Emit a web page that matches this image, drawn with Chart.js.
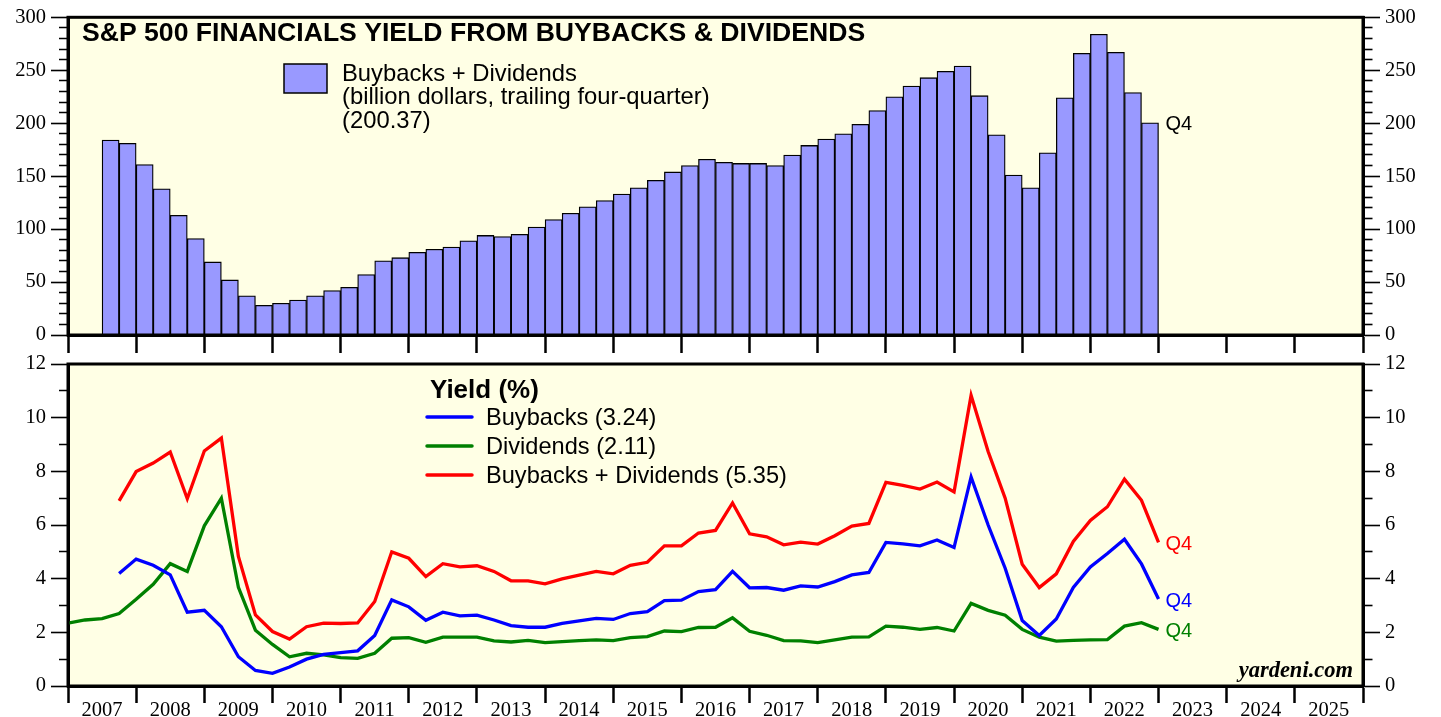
<!DOCTYPE html>
<html><head><meta charset="utf-8">
<script src="https://cdn.jsdelivr.net/npm/chart.js@4/dist/chart.umd.min.js"></script>
<style>
html,body{margin:0;padding:0;background:#fff;width:1441px;height:717px;overflow:hidden}
#top{position:absolute;left:0;top:0}
#bot{position:absolute;left:0;top:340px}
</style></head><body>
<canvas id="top" width="1441" height="355"></canvas>
<canvas id="bot" width="1441" height="377"></canvas>
<script>
// ---------- data ----------
function quarterLabels(startYear, startQ, endYear, endQ) {
  const out = [];
  let y = startYear, q = startQ;
  while (y < endYear || (y === endYear && q <= endQ)) {
    out.push(y + 'Q' + q);
    q++; if (q > 4) { q = 1; y++; }
  }
  return out;
}
const barQuarters = quarterLabels(2007, 3, 2022, 4);       // bars
const dividendQuarters = quarterLabels(2006, 4, 2022, 4);  // dividend yield line
const buybackQuarters = quarterLabels(2007, 3, 2022, 4);   // buyback & total yield lines

// Buybacks + Dividends, billion dollars, trailing four-quarter
const buybacksPlusDividendsBn = [184, 181, 161, 138, 113, 91, 69, 52, 37, 28,
  30, 33, 37, 42, 45, 57, 70, 73, 78, 81,
  83, 89, 94, 93, 95, 102, 109, 115, 121, 127,
  133, 139, 146, 154, 160, 166, 163, 162, 162, 160,
  170, 179, 185, 190, 199, 212, 225, 235, 243, 249,
  254, 226, 189, 151, 139, 172, 224, 266, 284, 267,
  229, 200.37];

// Yields (%)
const buybackYield = [4.19, 4.73, 4.50, 4.14, 2.75, 2.82, 2.21, 1.09, 0.58, 0.47,
  0.71, 1.00, 1.18, 1.24, 1.31, 1.88, 3.21, 2.95, 2.45, 2.75,
  2.61, 2.64, 2.46, 2.25, 2.19, 2.19, 2.33, 2.43, 2.52, 2.48,
  2.70, 2.77, 3.18, 3.20, 3.52, 3.59, 4.27, 3.66, 3.67, 3.57,
  3.73, 3.69, 3.89, 4.14, 4.23, 5.35, 5.30, 5.22, 5.44, 5.16,
  7.79, 6.00, 4.39, 2.44, 1.88, 2.50, 3.67, 4.44, 4.94, 5.47,
  4.55, 3.24];
const dividendYield = [2.34, 2.46, 2.51, 2.70, 3.23, 3.79, 4.56, 4.27, 5.97, 7.00,
  3.68, 2.08, 1.55, 1.09, 1.22, 1.16, 1.06, 1.03, 1.22, 1.78,
  1.80, 1.63, 1.82, 1.82, 1.82, 1.68, 1.64, 1.70, 1.62, 1.65,
  1.69, 1.72, 1.69, 1.80, 1.84, 2.05, 2.03, 2.18, 2.19, 2.54,
  2.04, 1.89, 1.69, 1.68, 1.62, 1.72, 1.82, 1.83, 2.23, 2.19,
  2.11, 2.18, 2.05, 3.08, 2.82, 2.64, 2.11, 1.82, 1.67, 1.70,
  1.72, 1.73, 2.23, 2.36, 2.11];
const totalYield = [6.90, 7.99, 8.31, 8.72, 6.98, 8.76, 9.24, 4.83, 2.65, 2.03,
  1.75, 2.21, 2.34, 2.33, 2.35, 3.15, 5.00, 4.76, 4.08, 4.56,
  4.44, 4.48, 4.27, 3.92, 3.92, 3.81, 3.99, 4.13, 4.27, 4.18,
  4.50, 4.61, 5.22, 5.22, 5.70, 5.80, 6.82, 5.67, 5.56, 5.26,
  5.36, 5.29, 5.60, 5.96, 6.06, 7.59, 7.48, 7.34, 7.60, 7.23,
  10.83, 8.74, 7.00, 4.54, 3.67, 4.18, 5.39, 6.17, 6.68, 7.71,
  6.92, 5.35];

const titleText = 'S&P 500 FINANCIALS YIELD FROM BUYBACKS & DIVIDENDS';
const barLegend = ['Buybacks + Dividends', '(billion dollars, trailing four-quarter)', '(200.37)'];
const lineLegendTitle = 'Yield (%)';
const lineLegend = ['Buybacks (3.24)', 'Dividends (2.11)', 'Buybacks + Dividends (5.35)'];
const xMinYear = 2007, xMaxYear = 2026;

// ---------- helpers ----------
function qEnd(label) { const [y, q] = label.split('Q').map(Number); return y + q / 4; }
function qMid(label) { const [y, q] = label.split('Q').map(Number); return y + (q - 0.5) / 4; }

const BG = '#FFFFE5';
const SERIF = '"Liberation Serif", "Times New Roman", serif';
const SANS = '"Liberation Sans", Arial, sans-serif';

function yAxis(position, max, step, majorEvery) {
  return {
    type: 'linear', position, min: 0, max,
    afterFit: s => { s.width = position === 'left' ? 68 : 78; },
    border: { display: true, color: '#000', width: 3 },
    grid: {
      drawOnChartArea: false, drawTicks: true, tickLength: 17, tickColor: '#000', tickWidth: 1.6,
      tickBorderDash: ctx => (ctx.tick && Math.round(ctx.tick.value) % majorEvery !== 0)
        ? (position === 'left' ? [0, 8, 40] : [7.5, 40]) : []
    },
    ticks: {
      stepSize: step, autoSkip: false, padding: 5, color: '#000',
      font: { family: SERIF, size: 20.5 },
      callback: v => (Math.round(v) % majorEvery === 0 ? String(v) : '')
    }
  };
}
function xAxis(height, tickLen, showLabels) {
  return {
    type: 'linear', position: 'bottom', min: xMinYear, max: xMaxYear, offset: false,
    afterFit: s => { s.height = height; },
    border: { display: true, color: '#000', width: 3 },
    grid: { drawOnChartArea: false, offset: false, tickLength: tickLen, tickWidth: 2.5, tickColor: '#000' },
    ticks: {
      stepSize: 1, autoSkip: false, maxRotation: 0, minRotation: 0, color: '#000',
      padding: -5, labelOffset: 34,
      font: { family: SERIF, size: 20.5 },
      callback: v => (showLabels && v < xMaxYear ? String(v) : '')
    }
  };
}
function txt(ctx, s, x, y, font, color, align) {
  ctx.save();
  ctx.font = font; ctx.fillStyle = color || '#000';
  ctx.textAlign = align || 'left'; ctx.textBaseline = 'middle';
  ctx.fillText(s, x, y);
  ctx.restore();
}
const bgPlugin = {
  id: 'bgFrame',
  beforeDraw(chart) {
    const a = chart.chartArea, c = chart.ctx;
    c.save(); c.fillStyle = BG; c.fillRect(a.left, a.top, a.right - a.left, a.bottom - a.top); c.restore();
  },
  afterDatasetsDraw(chart) {
    const a = chart.chartArea, c = chart.ctx;
    c.save(); c.strokeStyle = '#000'; c.lineWidth = 3;
    c.strokeRect(a.left, a.top, a.right - a.left, a.bottom - a.top); c.restore();
  }
};

// ---------- top chart ----------
const topDecor = {
  id: 'topDecor',
  afterDatasetsDraw(chart) {
    const c = chart.ctx;
    txt(c, titleText, 82, 34, 'bold 26.6px ' + SANS);
    c.save();
    c.fillStyle = '#9999FF'; c.strokeStyle = '#000'; c.lineWidth = 1.5;
    c.fillRect(284, 64, 43, 29); c.strokeRect(284, 64, 43, 29);
    c.restore();
    barLegend.forEach((s, i) => txt(c, s, 342, 74 + i * 23.5, '23.8px ' + SANS));
    const meta = chart.getDatasetMeta(0);
    const last = meta.data[meta.data.length - 1];
    txt(c, 'Q4', last.x + last.width / 2 + 7, last.y + 2, '20px ' + SANS);
  }
};
new Chart(document.getElementById('top'), {
  type: 'bar',
  data: {
    datasets: [{
      label: 'Buybacks + Dividends',
      data: barQuarters.map((q, i) => ({ x: qMid(q), y: buybacksPlusDividendsBn[i] })),
      backgroundColor: '#9999FF', borderColor: '#000', borderWidth: 1.3,
      barPercentage: 1, categoryPercentage: 1, yAxisID: 'y'
    }]
  },
  options: {
    responsive: false, animation: false, events: [],
    layout: { padding: { top: 15, left: 0, right: 0, bottom: 0 } },
    plugins: { legend: { display: false }, tooltip: { enabled: false } },
    scales: { x: xAxis(20, 18, false), y: yAxis('left', 300, 10, 50), y2: yAxis('right', 300, 10, 50) }
  },
  plugins: [bgPlugin, topDecor]
});

// ---------- bottom chart ----------
const lineColors = ['#0000FF', '#008000', '#FF0000'];
const botDecor = {
  id: 'botDecor',
  afterDatasetsDraw(chart) {
    const c = chart.ctx;
    txt(c, lineLegendTitle, 430, 51, 'bold 26px ' + SANS);
    lineLegend.forEach((s, i) => {
      const y = 77 + i * 29;
      c.save(); c.strokeStyle = lineColors[i]; c.lineWidth = 3.5; c.lineCap = 'round';
      c.beginPath(); c.moveTo(427, y); c.lineTo(472, y); c.stroke(); c.restore();
      txt(c, s, 486, y + 1, '23.6px ' + SANS);
    });
    chart.data.datasets.forEach((ds, i) => {
      const meta = chart.getDatasetMeta(i);
      const p = meta.data[meta.data.length - 1];
      txt(c, 'Q4', p.x + 7, p.y + 2, '20px ' + SANS, ds.borderColor);
    });
    txt(c, 'yardeni.com', 1353, 331, 'italic bold 22.5px ' + SERIF, '#000', 'right');
  }
};
new Chart(document.getElementById('bot'), {
  type: 'line',
  data: {
    datasets: [
      { label: 'Buybacks', data: buybackQuarters.map((q, i) => ({ x: qEnd(q), y: buybackYield[i] })), borderColor: lineColors[0] },
      { label: 'Dividends', data: dividendQuarters.map((q, i) => ({ x: qEnd(q), y: dividendYield[i] })), borderColor: lineColors[1] },
      { label: 'Buybacks + Dividends', data: buybackQuarters.map((q, i) => ({ x: qEnd(q), y: totalYield[i] })), borderColor: lineColors[2] }
    ].map(d => Object.assign(d, { borderWidth: 3.3, pointRadius: 0, tension: 0, fill: false, yAxisID: 'y' }))
  },
  options: {
    responsive: false, animation: false, events: [],
    layout: { padding: { top: 24, left: 0, right: 0, bottom: 0 } },
    plugins: { legend: { display: false }, tooltip: { enabled: false } },
    scales: { x: xAxis(31, 17, true), y: yAxis('left', 12, 1, 2), y2: yAxis('right', 12, 1, 2) }
  },
  plugins: [bgPlugin, botDecor]
});
</script>
</body></html>
